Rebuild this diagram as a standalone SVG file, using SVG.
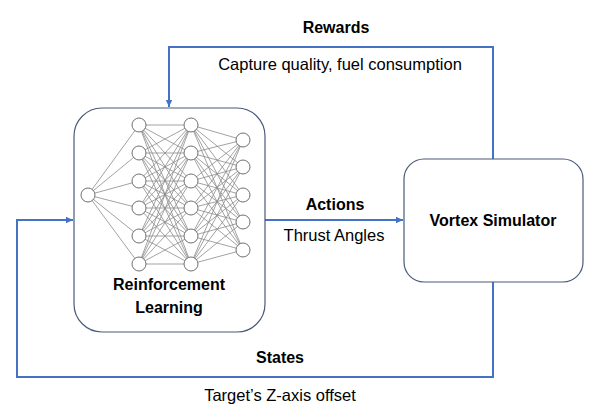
<svg xmlns="http://www.w3.org/2000/svg" width="598" height="416" viewBox="0 0 598 416">
<style>
.box{fill:#fff;stroke:#4a5a7a;stroke-width:1.2}
.conn{fill:none;stroke:#4472C4;stroke-width:2}
.lbl{font-family:"Liberation Sans",Arial,sans-serif;font-size:16.5px;fill:#000;text-anchor:middle}
.b{font-weight:bold;font-size:16px}
.nn line{stroke:#8a8a8a;stroke-width:0.8}
.nn circle{fill:#fff;stroke:#707070;stroke-width:1}
</style>
<defs>
<marker id="ah" markerWidth="8" markerHeight="8" refX="7" refY="4" orient="auto" markerUnits="userSpaceOnUse">
<path d="M0,0.8 L7,4 L0,7.2 Z" fill="#4472C4"/>
</marker>
</defs>
<rect width="598" height="416" fill="#fff"/>
<g id="connectors">
<path class="conn" d="M493,159 V47 H169 V107" marker-end="url(#ah)"/>
<path class="conn" d="M265,220 H403" marker-end="url(#ah)"/>
<path class="conn" d="M493,282 V377 H17 V220 H73" marker-end="url(#ah)"/>
<text class="lbl b" x="336" y="33">Rewards</text>
<text class="lbl" x="340" y="70">Capture quality, fuel consumption</text>
<text class="lbl b" x="335" y="210">Actions</text>
<text class="lbl" x="334" y="241">Thrust Angles</text>
<text class="lbl b" x="280" y="363">States</text>
<text class="lbl" x="280" y="401">Target’s Z-axis offset</text>
</g>
<g id="rl">
<rect class="box" x="74" y="108" width="191" height="224" rx="28" ry="28"/>
<g class="nn">
<g id="w1">
<line x1="88" y1="195" x2="139" y2="125"/><line x1="88" y1="195" x2="139" y2="153"/><line x1="88" y1="195" x2="139" y2="181"/><line x1="88" y1="195" x2="139" y2="208"/><line x1="88" y1="195" x2="139" y2="236"/><line x1="88" y1="195" x2="139" y2="264"/>
</g>
<g id="w2">
<line x1="139" y1="125" x2="191" y2="125"/><line x1="139" y1="125" x2="191" y2="153"/><line x1="139" y1="125" x2="191" y2="181"/><line x1="139" y1="125" x2="191" y2="208"/><line x1="139" y1="125" x2="191" y2="236"/><line x1="139" y1="125" x2="191" y2="264"/>
<line x1="139" y1="153" x2="191" y2="125"/><line x1="139" y1="153" x2="191" y2="153"/><line x1="139" y1="153" x2="191" y2="181"/><line x1="139" y1="153" x2="191" y2="208"/><line x1="139" y1="153" x2="191" y2="236"/><line x1="139" y1="153" x2="191" y2="264"/>
<line x1="139" y1="181" x2="191" y2="125"/><line x1="139" y1="181" x2="191" y2="153"/><line x1="139" y1="181" x2="191" y2="181"/><line x1="139" y1="181" x2="191" y2="208"/><line x1="139" y1="181" x2="191" y2="236"/><line x1="139" y1="181" x2="191" y2="264"/>
<line x1="139" y1="208" x2="191" y2="125"/><line x1="139" y1="208" x2="191" y2="153"/><line x1="139" y1="208" x2="191" y2="181"/><line x1="139" y1="208" x2="191" y2="208"/><line x1="139" y1="208" x2="191" y2="236"/><line x1="139" y1="208" x2="191" y2="264"/>
<line x1="139" y1="236" x2="191" y2="125"/><line x1="139" y1="236" x2="191" y2="153"/><line x1="139" y1="236" x2="191" y2="181"/><line x1="139" y1="236" x2="191" y2="208"/><line x1="139" y1="236" x2="191" y2="236"/><line x1="139" y1="236" x2="191" y2="264"/>
<line x1="139" y1="264" x2="191" y2="125"/><line x1="139" y1="264" x2="191" y2="153"/><line x1="139" y1="264" x2="191" y2="181"/><line x1="139" y1="264" x2="191" y2="208"/><line x1="139" y1="264" x2="191" y2="236"/><line x1="139" y1="264" x2="191" y2="264"/>
</g>
<g id="w3">
<line x1="191" y1="125" x2="243" y2="140"/><line x1="191" y1="125" x2="243" y2="167"/><line x1="191" y1="125" x2="243" y2="195"/><line x1="191" y1="125" x2="243" y2="222"/><line x1="191" y1="125" x2="243" y2="250"/>
<line x1="191" y1="153" x2="243" y2="140"/><line x1="191" y1="153" x2="243" y2="167"/><line x1="191" y1="153" x2="243" y2="195"/><line x1="191" y1="153" x2="243" y2="222"/><line x1="191" y1="153" x2="243" y2="250"/>
<line x1="191" y1="181" x2="243" y2="140"/><line x1="191" y1="181" x2="243" y2="167"/><line x1="191" y1="181" x2="243" y2="195"/><line x1="191" y1="181" x2="243" y2="222"/><line x1="191" y1="181" x2="243" y2="250"/>
<line x1="191" y1="208" x2="243" y2="140"/><line x1="191" y1="208" x2="243" y2="167"/><line x1="191" y1="208" x2="243" y2="195"/><line x1="191" y1="208" x2="243" y2="222"/><line x1="191" y1="208" x2="243" y2="250"/>
<line x1="191" y1="236" x2="243" y2="140"/><line x1="191" y1="236" x2="243" y2="167"/><line x1="191" y1="236" x2="243" y2="195"/><line x1="191" y1="236" x2="243" y2="222"/><line x1="191" y1="236" x2="243" y2="250"/>
<line x1="191" y1="264" x2="243" y2="140"/><line x1="191" y1="264" x2="243" y2="167"/><line x1="191" y1="264" x2="243" y2="195"/><line x1="191" y1="264" x2="243" y2="222"/><line x1="191" y1="264" x2="243" y2="250"/>
</g>
<circle cx="88" cy="195" r="7"/>
<circle cx="139" cy="125" r="7"/><circle cx="139" cy="153" r="7"/><circle cx="139" cy="181" r="7"/><circle cx="139" cy="208" r="7"/><circle cx="139" cy="236" r="7"/><circle cx="139" cy="264" r="7"/>
<circle cx="191" cy="125" r="7"/><circle cx="191" cy="153" r="7"/><circle cx="191" cy="181" r="7"/><circle cx="191" cy="208" r="7"/><circle cx="191" cy="236" r="7"/><circle cx="191" cy="264" r="7"/>
<circle cx="243" cy="140" r="7"/><circle cx="243" cy="167" r="7"/><circle cx="243" cy="195" r="7"/><circle cx="243" cy="222" r="7"/><circle cx="243" cy="250" r="7"/>
</g>
<text class="lbl b" x="169" y="290">Reinforcement</text>
<text class="lbl b" x="169" y="313">Learning</text>
</g>
<g id="vortex">
<rect class="box" x="404" y="159" width="179" height="123" rx="20" ry="20"/>
<text class="lbl b" x="493" y="226">Vortex Simulator</text>
</g>
</svg>
